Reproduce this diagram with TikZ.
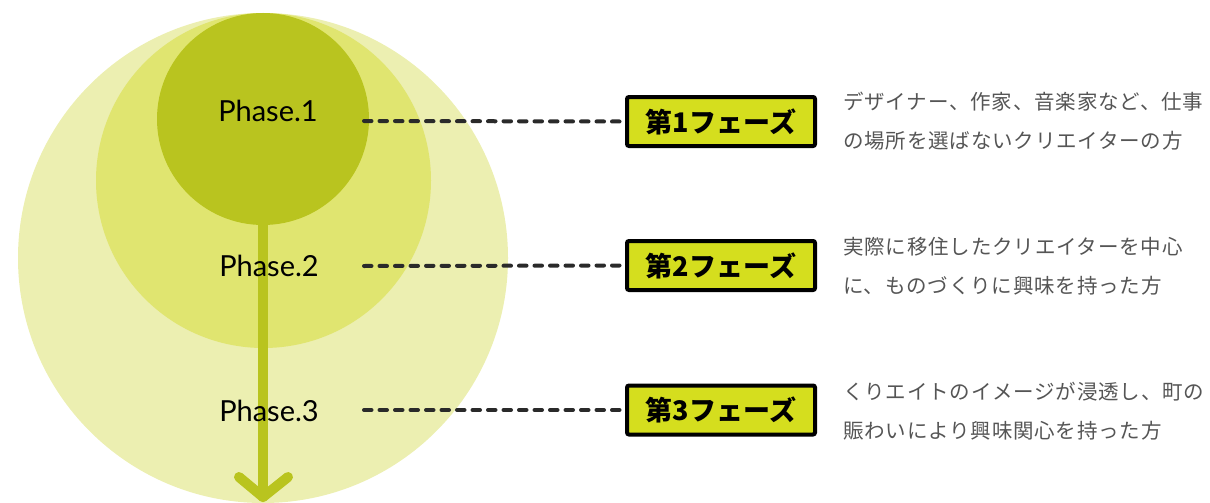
\documentclass[tikz,border=0pt]{standalone}
\usepackage{fontspec}
\newfontfamily\cjk{Noto Sans CJK JP}
\newfontfamily\cjkdesc[LetterSpace=4]{Noto Sans CJK JP}
\newfontfamily\latin{Lato}
\definecolor{outerc}{HTML}{ECEFB1}
\definecolor{midc}{HTML}{E0E570}
\definecolor{innerc}{HTML}{B9C41F}
\definecolor{boxc}{HTML}{D5DE1E}
\definecolor{descc}{HTML}{555555}
\definecolor{dashc}{HTML}{2A2A2A}
\begin{document}
\begin{tikzpicture}[x=1pt,y=-1pt,
  phase/.style={font=\latin\fontsize{29}{32}\selectfont, text=black, inner sep=0pt},
  phasebox/.style={draw=black, line width=4pt, fill=boxc, rounded corners=2pt,
    minimum width=188pt, minimum height=49pt, inner sep=0pt,
    font=\cjk\bfseries\fontsize{27}{30}\selectfont},
  desc/.style={anchor=west, align=left, inner sep=0pt, text=descc,
    font=\cjkdesc\fontsize{20.5}{39.5}\selectfont},
  dashline/.style={draw=dashc, line width=4pt, line cap=round, dash pattern=on 7.5pt off 8pt},
  flow/.style={draw=innerc, line width=10pt, line cap=round, line join=round}
]
\useasboundingbox (0,0) rectangle (1210,503);
\fill[outerc] (263,258) circle (245);
\fill[midc] (263.5,180.5) circle (167.5);
\fill[innerc] (263,119) circle (106);
\coordinate (a0) at (263,215);
\coordinate (a1) at (263,497);
\coordinate (al) at (239,477);
\coordinate (ar) at (288,477);
\draw[flow] (a0) -- (a1);
\draw[flow] (al) -- (a1) -- (ar);

\node[phase] (p1) at (268,111) {Phase.1};
\node[phase] (p2) at (269,266) {Phase.2};
\node[phase] (p3) at (269,411) {Phase.3};

\node[phasebox] (b1) at (721,121.5) {第1フェーズ};
\node[phasebox] (b2) at (721,265.5) {第2フェーズ};
\node[phasebox] (b3) at (721,410) {第3フェーズ};

\coordinate (d1) at (364,121);
\coordinate (d2) at (364,266);
\coordinate (d3) at (364,410);
\draw[dashline] (d1) -- (b1.west);
\draw[dashline] (d2) -- (b2.west);
\draw[dashline] (d3) -- (b3.west);

\node[desc] (t1) at (843,121) {デザイナー、作家、音楽家など、仕事\\の場所を選ばないクリエイターの方};
\node[desc] (t2) at (843,266) {実際に移住したクリエイターを中心\\に、ものづくりに興味を持った方};
\node[desc] (t3) at (843,411) {くりエイトのイメージが浸透し、町の\\賑わいにより興味関心を持った方};
\end{tikzpicture}
\end{document}
